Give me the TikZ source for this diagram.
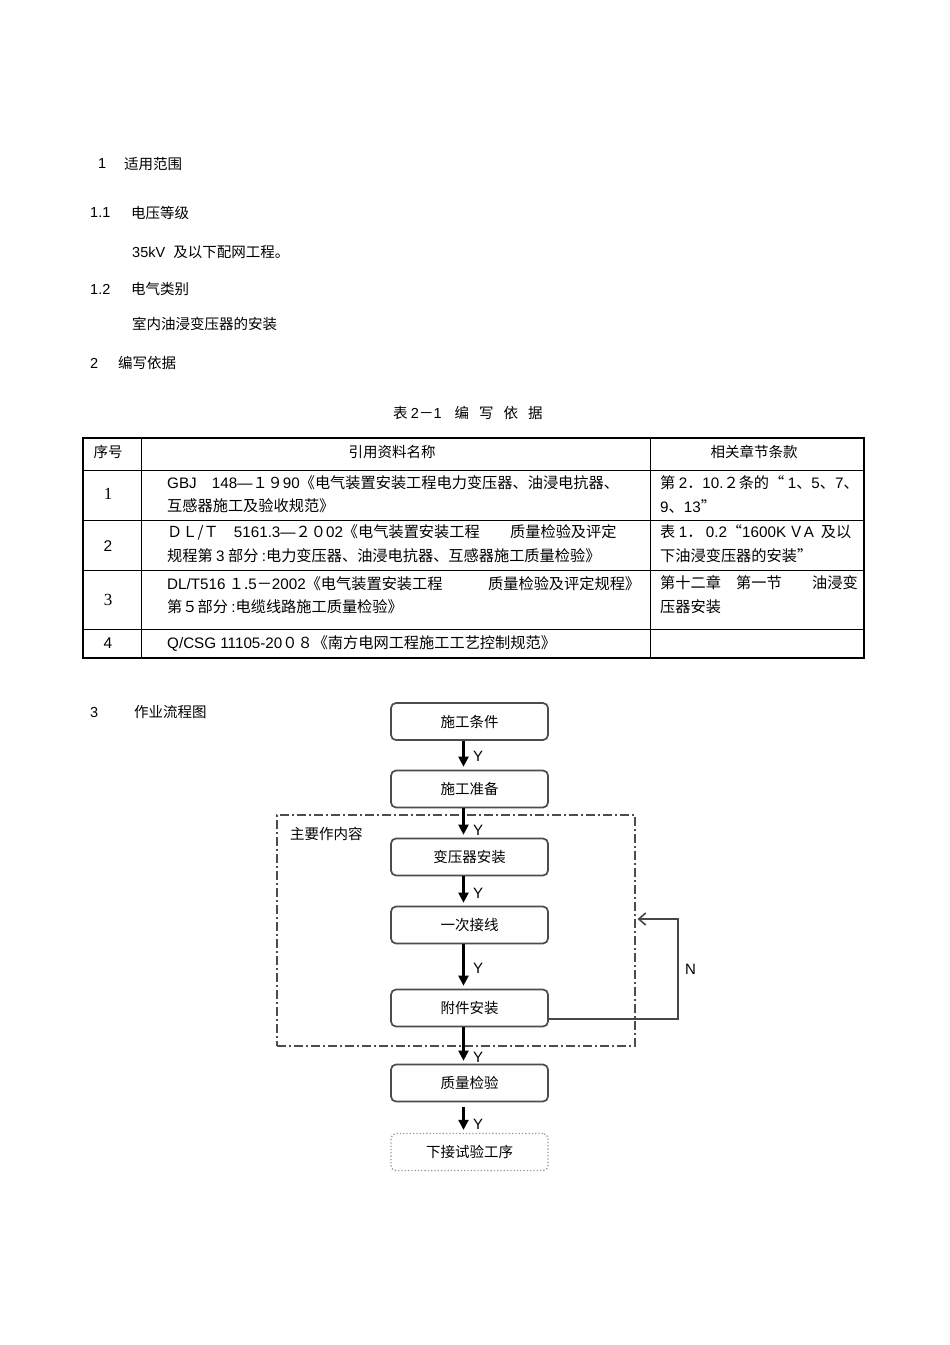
\documentclass[tikz,border=0pt]{standalone}
\usepackage{fontspec}
\setmainfont{Noto Sans CJK SC}
\newfontfamily\lat{Liberation Sans}
\newfontfamily\latserif{Liberation Serif}
\usetikzlibrary{arrows.meta}
\begin{document}
\begin{tikzpicture}[x=1pt,y=-1pt,
  txt/.style={anchor=west,inner sep=0pt,font=\fontsize{14.5}{17}\selectfont},
  ctxt/.style={anchor=center,inner sep=0pt,font=\fontsize{14.5}{17}\selectfont},
  ttxt/.style={anchor=west,inner sep=0pt,font=\fontsize{15.2}{17}\selectfont},
  flowbox/.style={draw=black!70,line width=1.7pt,rounded corners=5pt,minimum width=157pt,minimum height=37pt,inner sep=0pt,font=\fontsize{14.5}{17}\selectfont},
  lastbox/.style={flowbox,draw=black!40,line width=1.3pt,dotted},
  dashbox/.style={draw=black!70,line width=1.1pt,dash pattern=on 9pt off 3pt on 2pt off 3pt,minimum width=358pt,minimum height=231pt,inner sep=0pt},
  flowarrow/.style={line width=2.2pt,-{Triangle[length=10pt,width=10pt]},shorten >=3pt},
  nline/.style={draw=black!72,line width=1.6pt,-{Straight Barb[length=7pt,width=12pt]}},
  ylab/.style={anchor=west,inner sep=0pt,font=\lat\fontsize{15}{17}\selectfont},
  tline/.style={line width=0.9pt},
  touter/.style={line width=2.2pt}
]
\useasboundingbox[fill=white] (0,0) rectangle (950,1345);

% ---- headings ----
\node[txt] (h1n) at (94,164) {\lat\ 1};
\node[txt] (h1t) at (124,164) {适用范围};
\node[txt] (h11n) at (90,213) {\lat 1.1};
\node[txt] (h11t) at (131,213) {电压等级};
\node[txt] (p1) at (132,252) {{\lat 35kV\ \ }及以下配网工程。};
\node[txt] (h12n) at (90,289) {\lat 1.2};
\node[txt] (h12t) at (131,289) {电气类别};
\node[txt] (p2) at (132,324) {室内油浸变压器的安装};
\node[txt] (h2n) at (90,363) {\lat 2};
\node[txt] (h2t) at (118,363) {编写依据};
\node[txt] (ttl) at (393,413) {表\ {\lat 2}－{\lat 1}\hspace{13pt}编\hspace{10pt}写\hspace{10pt}依\hspace{10pt}据};

% ---- table ----
\draw[tline] (83,470) -- (864,470);
\draw[tline] (83,520) -- (864,520);
\draw[tline] (83,570) -- (864,570);
\draw[tline] (83,629) -- (864,629);
\draw[tline] (141,438) -- (141,658);
\draw[tline] (650,438) -- (650,658);
\draw[touter] (83,438) rectangle (864,658);

\node[ctxt] (c00) at (108,452) {序号};
\node[ctxt] (c01) at (392,452) {引用资料名称};
\node[ctxt] (c02) at (754,452) {相关章节条款};

\node[ctxt,font=\latserif\fontsize{17}{17}\selectfont] (n1) at (108,494) {1};
\node[ttxt] (r1a) at (167,483) {{\lat GBJ\quad 148—}１９{\lat 90}《电气装置安装工程电力变压器、油浸电抗器、};
\node[ttxt] (r1b) at (167,506) {互感器施工及验收规范》};
\node[ttxt] (r1c) at (660,483) {第 {\lat 2}．{\lat 10.}２条的“ {\lat 1}、{\lat 5}、{\lat 7}、};
\node[ttxt] (r1d) at (660,507) {{\lat 9}、{\lat 13}”};

\node[ctxt,font=\lat\fontsize{15.5}{17}\selectfont] (n2) at (108,546) {2};
\node[ttxt] (r2a) at (167,532) {ＤＬ/Ｔ\quad {\lat 5161.3—}２０{\lat 02}《电气装置安装工程\qquad 质量检验及评定};
\node[ttxt] (r2b) at (167,556) {规程第 {\lat 3} 部分 {\lat :}电力变压器、油浸电抗器、互感器施工质量检验》};
\node[ttxt] (r2c) at (660,532) {表 {\lat 1}．\ {\lat 0.2}“{\lat 1600K\,}Ｖ{\lat A}\ \ 及以};
\node[ttxt] (r2d) at (660,556) {下油浸变压器的安装”};

\node[ctxt,font=\latserif\fontsize{17}{17}\selectfont] (n3) at (108,600) {3};
\node[ttxt] (r3a) at (167,584) {{\lat DL/T516} １.{\lat 5}－{\lat 2002}《电气装置安装工程\qquad\quad 质量检验及评定规程》};
\node[ttxt] (r3b) at (167,607) {第５部分 {\lat :}电缆线路施工质量检验》};
\node[ttxt] (r3c) at (660,583) {第十二章\quad 第一节\qquad 油浸变};
\node[ttxt] (r3d) at (660,607) {压器安装};

\node[ctxt,font=\lat\fontsize{15.5}{17}\selectfont] (n4) at (108,643) {4};
\node[ttxt] (r4a) at (167,643) {{\lat Q/CSG 11105-20}０８《南方电网工程施工工艺控制规范》};

% ---- section 3 ----
\node[txt] (h3n) at (90,712) {\lat 3};
\node[txt] (h3t) at (134,712) {作业流程图};

% ---- flowchart ----
\node[dashbox] (dbox) at (456,930.5) {};
\node[txt] (dlab) at (290,834) {主要作内容};

\node[flowbox] (b1) at (469.5,721.5) {施工条件};
\node[flowbox] (b2) at (469.5,789) {施工准备};
\node[flowbox] (b3) at (469.5,857) {变压器安装};
\node[flowbox] (b4) at (469.5,925) {一次接线};
\node[flowbox] (b5) at (469.5,1008) {附件安装};
\node[flowbox] (b6) at (469.5,1083) {质量检验};
\node[lastbox] (b7) at (469.5,1152) {下接试验工序};

\draw[flowarrow] ([xshift=-6pt]b1.south) -- ([xshift=-6pt]b2.north);
\draw[flowarrow] ([xshift=-6pt]b2.south) -- ([xshift=-6pt]b3.north);
\draw[flowarrow] ([xshift=-6pt]b3.south) -- ([xshift=-6pt]b4.north);
\draw[flowarrow] ([xshift=-6pt]b4.south) -- ([xshift=-6pt]b5.north);
\draw[flowarrow] ([xshift=-6pt]b5.south) -- ([xshift=-6pt]b6.north);
\draw[flowarrow] ([xshift=-6pt,yshift=-5pt]b6.south) -- ([xshift=-6pt]b7.north);

\node[ylab] (y1) at (473,756) {Y};
\node[ylab] (y2) at (473,830) {Y};
\node[ylab] (y3) at (473,893) {Y};
\node[ylab] (y4) at (473,968) {Y};
\node[ylab] (y5) at (473,1057) {Y};
\node[ylab] (y6) at (473,1124) {Y};

\coordinate (nc) at (678,919);
\draw[nline] ([yshift=-11pt]b5.east) -| (nc) -- ([xshift=2pt]dbox.east |- nc);
\node[ylab] (nlab) at (685,969) {N};
\end{tikzpicture}
\end{document}
